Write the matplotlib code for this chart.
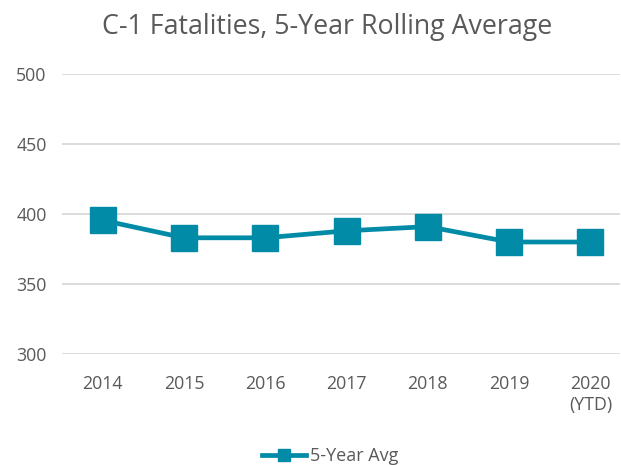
import matplotlib

matplotlib.use("Agg")
import matplotlib.pyplot as plt

years = ["2014", "2015", "2016", "2017", "2018", "2019", "2020\n(YTD)"]
avg_5yr = [395.5, 383, 383, 388, 391, 380, 380]

TEAL = "#028BA7"
GRAY = "#595959"

plt.rcParams["font.family"] = ["Open Sans", "DejaVu Sans"]

fig = plt.figure(figsize=(6.21, 4.65), dpi=100)
ax = fig.add_axes([62 / 621, 1 - 354 / 465, 558 / 621, 280 / 465])

x = list(range(len(years)))
ax.plot(x, avg_5yr, color=TEAL, linewidth=3.4, marker="s", markersize=18.7,
        label="5-Year Avg", zorder=3)

ax.set_ylim(300, 500)
ax.set_yticks([300, 350, 400, 450, 500])
ax.set_xlim(-0.5, -0.5 + 558 / 81.3)
ax.set_xticks(x)
ax.set_xticklabels(years, linespacing=1.25)
ax.grid(axis="y", color="#D9D9D9", linewidth=1.3)
ax.set_axisbelow(True)
for spine in ax.spines.values():
    spine.set_visible(False)
ax.tick_params(axis="both", length=0, labelsize=12.8, labelcolor=GRAY)
ax.tick_params(axis="y", pad=11)
ax.tick_params(axis="x", pad=15)

fig.suptitle("C-1 Fatalities, 5-Year Rolling Average", x=327 / 621,
             y=1 - 27 / 465, va="center", fontsize=19.3, color=GRAY)

ax.legend(loc="center", bbox_to_anchor=((330 - 62) / 558, -(456 - 354) / 280),
          frameon=False, fontsize=13, labelcolor=GRAY, handlelength=2.45,
          handletextpad=0.2, markerscale=0.45)

fig.savefig("out.png", dpi=100)
